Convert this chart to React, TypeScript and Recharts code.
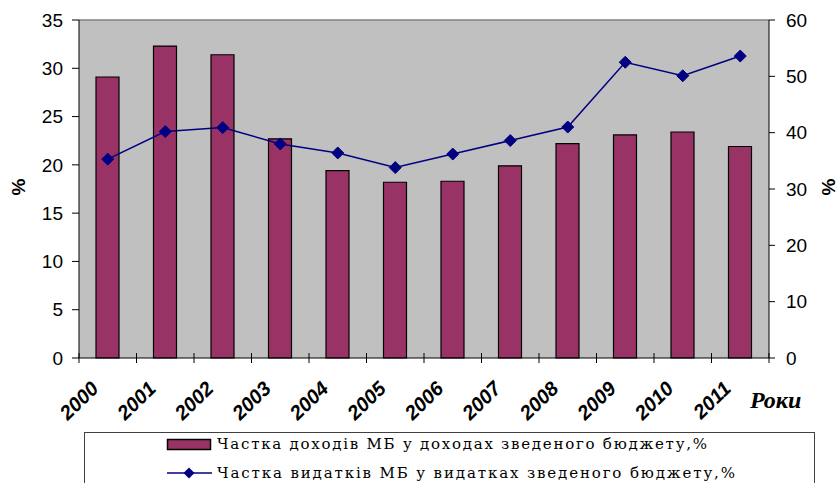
import React from 'react';
import { ComposedChart, Bar, Line, XAxis, YAxis, CartesianGrid, ReferenceLine } from 'recharts';

const years = ['2000', '2001', '2002', '2003', '2004', '2005', '2006', '2007', '2008', '2009', '2010', '2011'];
const revenueShare = [29.1, 32.3, 31.4, 22.7, 19.4, 18.2, 18.3, 19.9, 22.2, 23.1, 23.4, 21.9];
const expenditureShare = [35.3, 40.2, 40.9, 38.0, 36.4, 33.8, 36.2, 38.6, 41.0, 52.5, 50.1, 53.6];
const leftTicks = [0, 5, 10, 15, 20, 25, 30, 35];
const rightTicks = [0, 10, 20, 30, 40, 50, 60];
const revenueName = 'Частка доходів МБ у доходах зведеного бюджету,%';
const expenditureName = 'Частка видатків МБ у видатках зведеного бюджету,%';
const xAxisTitle = 'Роки';
const yAxisTitle = '%';

const data = years.map((year, i) => ({
  year,
  revenue: revenueShare[i],
  expenditure: expenditureShare[i],
}));

const BAR_COLOR = '#993366';
const LINE_COLOR = '#000080';
const SANS = '"Liberation Sans", Arial, sans-serif';

const XTick = (props: any) => {
  const { x, y, payload, index } = props;
  const half = payload && typeof payload.offset === 'number' && payload.offset > 0 ? payload.offset : 28.75;
  const ax = x - 8;
  const ay = y + 32;
  return (
    <g>
      <line x1={x - half} y1={y - 5} x2={x - half} y2={y + 5} stroke="#000" strokeWidth={1} />
      {index === years.length - 1 && (
        <line x1={x + half} y1={y - 5} x2={x + half} y2={y + 5} stroke="#000" strokeWidth={1} />
      )}
      <text
        x={0}
        y={0}
        transform={`translate(${ax},${ay}) rotate(-44)`}
        textAnchor="end"
        fontFamily={SANS}
        fontWeight="bold"
        fontStyle="italic"
        fontSize={20}
        fill="#000"
      >
        {payload.value}
      </text>
    </g>
  );
};

const Diamond = (props: any) => {
  const { cx, cy } = props;
  if (cx == null || cy == null) return null;
  const r = 6;
  return (
    <polygon
      points={`${cx},${cy - r} ${cx + r},${cy} ${cx},${cy + r} ${cx - r},${cy}`}
      fill={LINE_COLOR}
      stroke={LINE_COLOR}
    />
  );
};

const LeftTitle = (props: any) => {
  const vb = props.viewBox || {};
  const cx = vb.x + 18;
  const cy = vb.y + vb.height / 2 - 2;
  return (
    <text x={cx} y={cy} transform={`rotate(-90,${cx},${cy})`} textAnchor="middle" dominantBaseline="central"
      fontFamily={SANS} fontWeight="bold" fontSize={19} fill="#000">
      {yAxisTitle}
    </text>
  );
};

const RightTitle = (props: any) => {
  const vb = props.viewBox || {};
  const cx = vb.x + 59;
  const cy = vb.y + vb.height / 2 - 2;
  return (
    <text x={cx} y={cy} transform={`rotate(-90,${cx},${cy})`} textAnchor="middle" dominantBaseline="central"
      fontFamily={SANS} fontWeight="bold" fontSize={19} fill="#000">
      {yAxisTitle}
    </text>
  );
};

const XTitle = (props: any) => {
  const vb = props.viewBox || {};
  return (
    <text x={vb.x + vb.width - 19} y={vb.y + 50} textAnchor="start"
      fontFamily='"Liberation Serif", "Times New Roman", serif' fontWeight="bold" fontStyle="italic"
      fontSize={24} fill="#000">
      {xAxisTitle}
    </text>
  );
};

export default function App() {
  return (
    <div style={{ position: 'absolute', left: 0, top: 0, width: 839, height: 483, background: '#fff', overflow: 'hidden' }}>
      <ComposedChart
        width={839}
        height={483}
        data={data}
        margin={{ top: 20, right: 0, bottom: 0, left: 0 }}
        barCategoryGap={0}
        style={{ fontFamily: SANS }}
      >
        <CartesianGrid fill="#C0C0C0" stroke="none" horizontal={false} vertical={false} yAxisId="left" />
        <XAxis
          dataKey="year"
          height={125}
          tick={<XTick />}
          tickLine={false}
          tickSize={0}
          tickMargin={0}
          interval={0}
          axisLine={{ stroke: '#000', strokeWidth: 1 }}
          label={<XTitle />}
        />
        <YAxis
          yAxisId="left"
          orientation="left"
          width={79}
          domain={[0, 35]}
          ticks={leftTicks}
          interval={0}
          tickSize={7}
          tickMargin={9}
          tick={{ fill: '#000', fontSize: 19, fontFamily: SANS }}
          tickLine={{ stroke: '#000' }}
          axisLine={{ stroke: '#000' }}
          label={<LeftTitle />}
        />
        <YAxis
          yAxisId="right"
          orientation="right"
          width={70}
          domain={[0, 60]}
          ticks={rightTicks}
          interval={0}
          tickSize={6}
          tickMargin={11}
          tick={{ fill: '#000', fontSize: 19, fontFamily: SANS }}
          tickLine={{ stroke: '#000' }}
          axisLine={{ stroke: '#000' }}
          label={<RightTitle />}
        />
        <ReferenceLine yAxisId="left" y={35} stroke="#808080" strokeWidth={1.5} />
        <Bar
          yAxisId="left"
          dataKey="revenue"
          name={revenueName}
          fill={BAR_COLOR}
          stroke="#000"
          strokeWidth={1.2}
          barSize={23}
          isAnimationActive={false}
        />
        <Line
          yAxisId="right"
          dataKey="expenditure"
          name={expenditureName}
          stroke={LINE_COLOR}
          strokeWidth={1.5}
          dot={<Diamond />}
          activeDot={false}
          isAnimationActive={false}
        />
      </ComposedChart>
      <svg width={839} height={483} style={{ position: 'absolute', left: 0, top: 0, pointerEvents: 'none' }}>
        <rect x={84.5} y={432.5} width={730} height={70} fill="#fff" stroke="#404040" strokeWidth={1} />
        <rect x={167.5} y={439.5} width={43} height={10} fill={BAR_COLOR} stroke="#000" strokeWidth={1.5} />
        <text x={217} y={449} fontFamily='"DejaVu Serif", serif' fontSize={15} textLength={490} lengthAdjust="spacing" fill="#000">
          {revenueName}
        </text>
        <line x1={167} y1={473} x2={212} y2={473} stroke={LINE_COLOR} strokeWidth={1.5} />
        <polygon points="189,467.5 194.5,473 189,478.5 183.5,473" fill={LINE_COLOR} />
        <text x={217} y={478} fontFamily='"DejaVu Serif", serif' fontSize={15} textLength={518} lengthAdjust="spacing" fill="#000">
          {expenditureName}
        </text>
      </svg>
    </div>
  );
}
